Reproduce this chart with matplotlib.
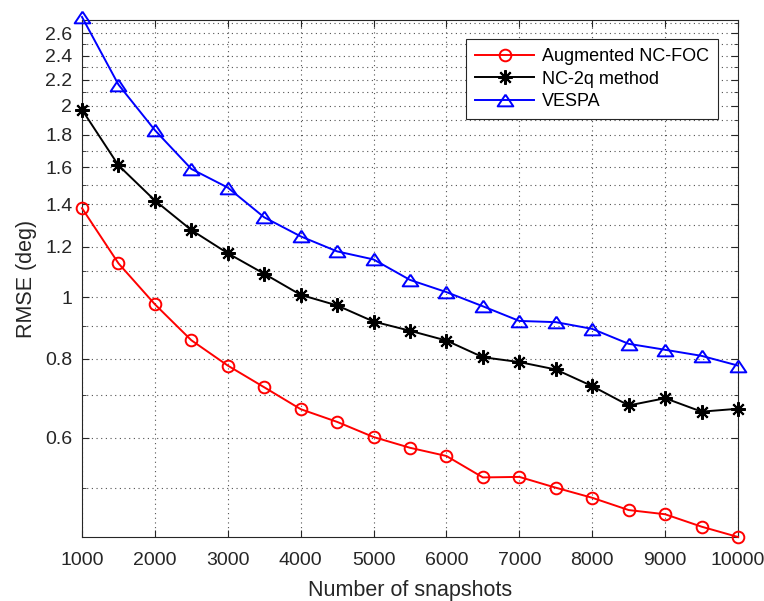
import numpy as np
import matplotlib
matplotlib.use("Agg")
import matplotlib.pyplot as plt
from matplotlib.ticker import FixedLocator, FixedFormatter, NullFormatter

# Data
snapshots = [1000, 1500, 2000, 2500, 3000, 3500, 4000, 4500, 5000, 5500,
             6000, 6500, 7000, 7500, 8000, 8500, 9000, 9500, 10000]
rmse_aug_ncfoc = [1.38, 1.13, 0.974, 0.855, 0.780, 0.721, 0.666, 0.636, 0.602, 0.579,
                  0.562, 0.520, 0.521, 0.501, 0.483, 0.462, 0.455, 0.435, 0.419]
rmse_nc2q = [1.972, 1.612, 1.419, 1.275, 1.172, 1.088, 1.008, 0.970, 0.915, 0.885,
             0.854, 0.804, 0.790, 0.769, 0.724, 0.675, 0.693, 0.660, 0.667]
rmse_vespa = [2.76, 2.160, 1.831, 1.591, 1.487, 1.335, 1.246, 1.180, 1.146, 1.064,
              1.018, 0.967, 0.917, 0.913, 0.891, 0.844, 0.826, 0.808, 0.780]
series_labels = ["Augmented NC-FOC", "NC-2q method", "VESPA"]

x_ticks = [1000, 2000, 3000, 4000, 5000, 6000, 7000, 8000, 9000, 10000]
y_major = [0.6, 0.8, 1.0, 1.2, 1.4, 1.6, 1.8, 2.0, 2.2, 2.4, 2.6]
y_major_labels = ["0.6", "0.8", "1", "1.2", "1.4", "1.6", "1.8", "2", "2.2", "2.4", "2.6"]
y_minor = [0.5, 0.7, 0.9, 1.1, 1.3, 1.5, 1.7, 1.9, 2.1, 2.3, 2.5, 2.7]
y_limits = (0.419, 2.73)

plt.rcParams['font.family'] = ['Liberation Sans', 'DejaVu Sans']

fig = plt.figure(figsize=(7.64, 6.01), dpi=100)
ax = fig.add_axes([82 / 764, 1 - 537 / 601, (738 - 82) / 764, (537 - 20) / 601])

# wide triangle, like the classic '^' marker
tri = [(0, 0.745), (-1, -0.745), (1, -0.745), (0, 0.745)]

lw = 1.4
ax.plot(snapshots, rmse_aug_ncfoc, color=(1, 0, 0), lw=lw, marker='o', ms=8.4,
        mfc='none', mew=1.4, label=series_labels[0], clip_on=False, zorder=3)
ax.plot(snapshots, rmse_nc2q, color='k', lw=lw, marker=(8, 2, 0), ms=10.5,
        mew=1.5, label=series_labels[1], clip_on=False, zorder=3)
ax.plot(snapshots, rmse_vespa, color=(0, 0, 1), lw=lw, marker=tri, ms=11.3,
        mfc='none', mew=1.4, label=series_labels[2], clip_on=False, zorder=3)

ax.set_yscale('log')
ax.set_xlim(1000, 10000)
ax.set_ylim(*y_limits)

ax.xaxis.set_major_locator(FixedLocator(x_ticks))
ax.set_xticklabels([str(v) for v in x_ticks])
ax.yaxis.set_major_locator(FixedLocator(y_major))
ax.yaxis.set_major_formatter(FixedFormatter(y_major_labels))
ax.yaxis.set_minor_locator(FixedLocator(y_minor))
ax.yaxis.set_minor_formatter(NullFormatter())
ax.xaxis.set_minor_locator(FixedLocator([]))

edge = '0.15'
for s in ax.spines.values():
    s.set_color(edge)
    s.set_linewidth(0.8)

ax.tick_params(axis='both', which='both', direction='in', top=True, right=True,
               color=edge, labelcolor='0.15', labelsize=14)
ax.tick_params(axis='both', which='major', length=5, width=0.8)
ax.tick_params(axis='y', which='minor', length=3, width=0.6)
ax.tick_params(axis='x', which='major', pad=11)
ax.tick_params(axis='y', which='major', pad=7)

grid_kw = dict(color='0.2', linestyle=(0, (1, 3.2)), linewidth=0.8, alpha=0.85)
ax.grid(True, which='major', axis='both', **grid_kw)
ax.grid(True, which='minor', axis='y', **grid_kw)
ax.set_axisbelow(True)

ax.set_xlabel("Number of snapshots", fontsize=15.5, color='0.15', labelpad=8)
ax.set_ylabel("RMSE (deg)", fontsize=15.5, color='0.15', labelpad=6)

leg = ax.legend(loc='upper right', bbox_to_anchor=(717.7 / 764, 1 - 39.3 / 601),
                bbox_transform=fig.transFigure, borderaxespad=0, fontsize=13,
                fancybox=False, framealpha=1, edgecolor='0.15', handlelength=3.3,
                handletextpad=0.4, labelspacing=0.3, borderpad=0.5)
leg.get_frame().set_linewidth(0.8)

fig.savefig("out.png", dpi=100)
